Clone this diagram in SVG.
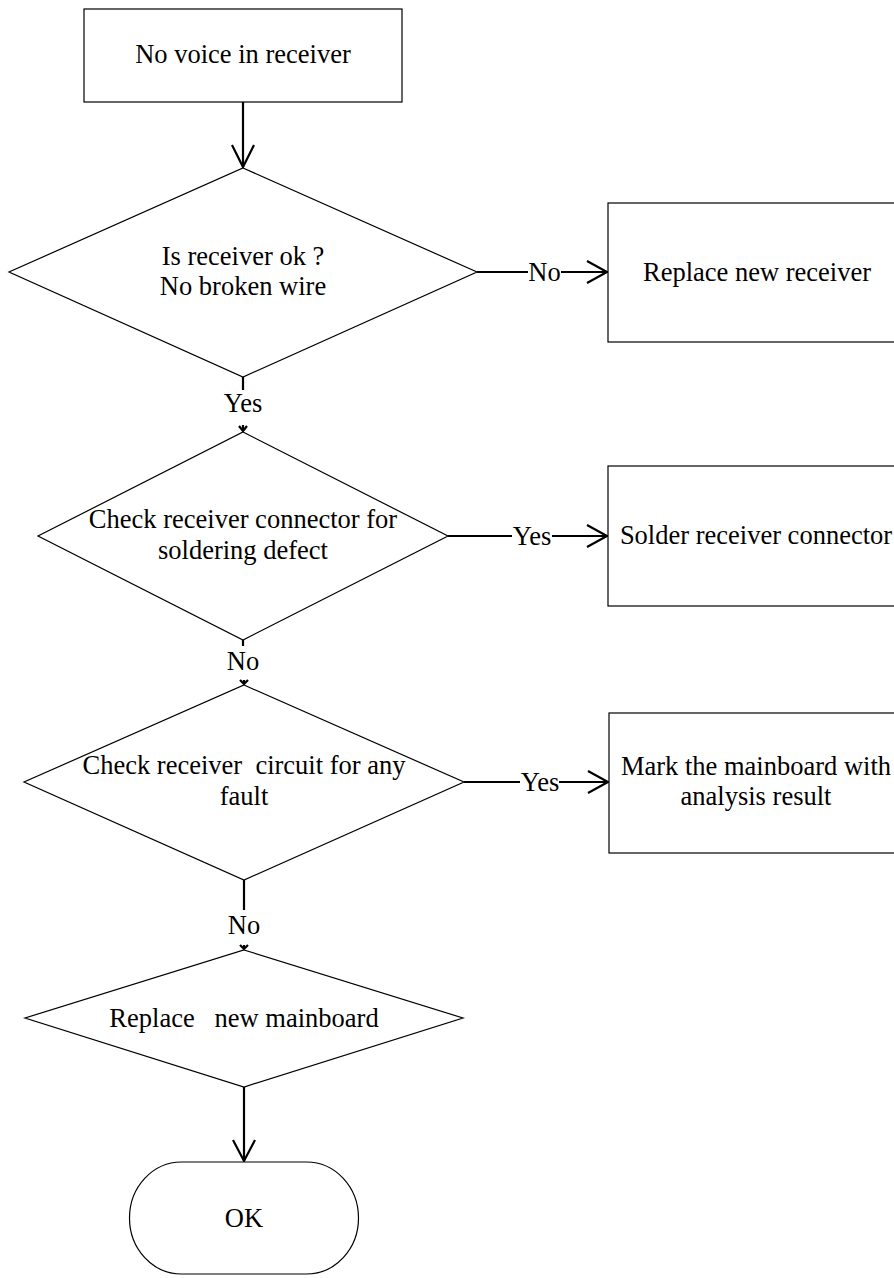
<svg xmlns="http://www.w3.org/2000/svg" width="894" height="1278" viewBox="0 0 894 1278">
<style>
.shape{fill:#fff;stroke:#000;stroke-width:1.2}
.t{font-family:"Liberation Serif","Times New Roman",serif;font-size:26.5px;fill:#000;text-anchor:middle}
.c{fill:none;stroke:#000;stroke-width:2.2}
.ah{fill:none;stroke:#000;stroke-width:2.2}
</style>
<rect width="894" height="1278" fill="#fff"/>
<g id="connectors">
<line class="c" x1="243" y1="102" x2="243" y2="167"/>
<path class="ah" d="M232,145 L243,167 L254,145"/>
<line class="c" x1="243" y1="377" x2="243" y2="390"/>
<text class="t" x="243" y="412">Yes</text>
<line class="c" x1="243" y1="425" x2="243" y2="431"/>
<path class="ah" d="M239,426 L243,431 L247,426"/>
<line class="c" x1="477" y1="272" x2="528" y2="272"/>
<text class="t" x="544.5" y="281">No</text>
<line class="c" x1="561" y1="272" x2="607" y2="272"/>
<path class="ah" d="M587,261 L607,272 L587,283"/>
<line class="c" x1="448" y1="536" x2="512" y2="536"/>
<text class="t" x="532" y="545">Yes</text>
<line class="c" x1="552" y1="536" x2="607" y2="536"/>
<path class="ah" d="M587,525 L607,536 L587,547"/>
<line class="c" x1="243" y1="640" x2="243" y2="646"/>
<text class="t" x="243" y="670">No</text>
<line class="c" x1="244" y1="680" x2="244" y2="684"/>
<path class="ah" d="M240,680 L244,684 L248,680"/>
<line class="c" x1="464" y1="782" x2="520" y2="782"/>
<text class="t" x="540" y="791">Yes</text>
<line class="c" x1="559" y1="782" x2="608" y2="782"/>
<path class="ah" d="M588,771 L608,782 L588,793"/>
<line class="c" x1="244" y1="880" x2="244" y2="910"/>
<text class="t" x="244" y="934">No</text>
<line class="c" x1="244" y1="945" x2="244" y2="949"/>
<path class="ah" d="M240,945 L244,949 L248,945"/>
<line class="c" x1="244" y1="1087" x2="244" y2="1161"/>
<path class="ah" d="M233,1140 L244,1161 L255,1140"/>
</g>
<g id="start">
<rect class="shape" x="84" y="9" width="318" height="93"/>
<text class="t" x="243" y="63">No voice in receiver</text>
</g>
<g id="d1">
<polygon class="shape" points="243,168 477,272 243,377 9,272"/>
<text class="t" x="243" y="265">Is receiver ok ?</text>
<text class="t" x="243" y="295">No broken wire</text>
</g>
<g id="replace-receiver">
<rect class="shape" x="608" y="203" width="300" height="139"/>
<text class="t" x="757" y="281">Replace new receiver</text>
</g>
<g id="d2">
<polygon class="shape" points="243,432 448,536 243,640 38,536"/>
<text class="t" x="243" y="528">Check receiver connector for</text>
<text class="t" x="243" y="559">soldering defect</text>
</g>
<g id="solder">
<rect class="shape" x="608" y="466" width="300" height="140"/>
<text class="t" x="756" y="544">Solder receiver connector</text>
</g>
<g id="d3">
<polygon class="shape" points="244,685 464,782 244,880 24,782"/>
<text class="t" x="244" y="774" xml:space="preserve">Check receiver  circuit for any</text>
<text class="t" x="244" y="805">fault</text>
</g>
<g id="mark">
<rect class="shape" x="609" y="713" width="300" height="140"/>
<text class="t" x="756" y="775">Mark the mainboard with</text>
<text class="t" x="756" y="805">analysis result</text>
</g>
<g id="d4">
<polygon class="shape" points="244,950 463,1018 244,1087 25,1018"/>
<text class="t" x="244" y="1027" xml:space="preserve">Replace   new mainboard</text>
</g>
<g id="ok">
<rect class="shape" x="129.5" y="1162" width="229" height="112" rx="52" ry="56"/>
<text class="t" x="244" y="1227">OK</text>
</g>
</svg>
